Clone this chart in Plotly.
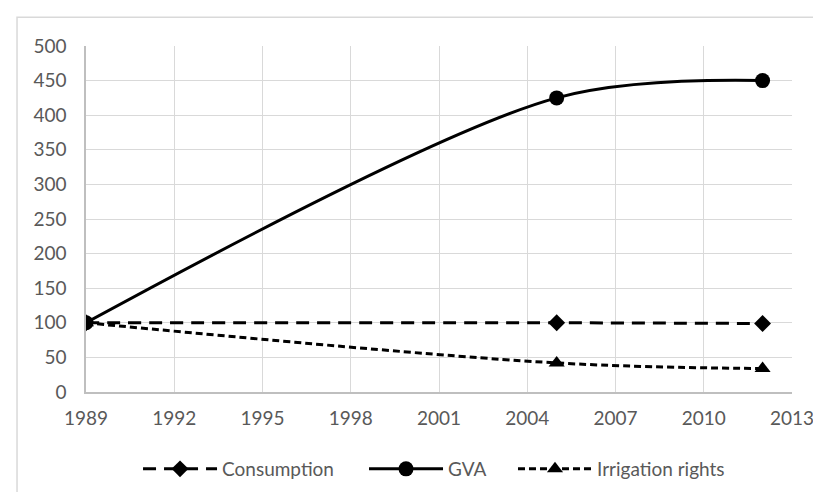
import plotly.graph_objects as go

years = [1989, 2005, 2012]
consumption = [100, 100, 99]
gva = [100, 425, 450]
irrigation = [100, 42, 34]
x_ticks = [1989, 1992, 1995, 1998, 2001, 2004, 2007, 2010, 2013]
y_ticks = [0, 50, 100, 150, 200, 250, 300, 350, 400, 450, 500]

FONT = "Lato"
GRAY = "#595959"

fig = go.Figure()
fig.add_trace(go.Scatter(
    x=years, y=consumption, name="Consumption", mode="lines+markers",
    line=dict(color="black", width=3, dash="13px,8px", shape="spline"),
    marker=dict(symbol="diamond", size=13, color="black"),
    legend="legend",
))
fig.add_trace(go.Scatter(
    x=years, y=gva, name="GVA", mode="lines+markers",
    line=dict(color="black", width=3, shape="spline", smoothing=0.9),
    marker=dict(symbol="circle", size=15, color="black"),
    legend="legend2",
))
fig.add_trace(go.Scatter(
    x=years, y=irrigation, name="Irrigation rights", mode="lines+markers",
    line=dict(color="black", width=3, dash="7px,4px", shape="spline"),
    marker=dict(symbol="triangle-up", size=14, color="black"),
    legend="legend3",
))

leg_common = dict(orientation="h", xanchor="left", y=-0.2225, yanchor="middle",
                  itemwidth=74, font=dict(family=FONT, size=19, color=GRAY),
                  bgcolor="rgba(0,0,0,0)")

fig.update_layout(
    width=821, height=492,
    margin=dict(l=78, r=37, t=38, b=108),
    paper_bgcolor="white", plot_bgcolor="white",
    font=dict(family=FONT, size=19, color=GRAY),
    showlegend=True,
    legend=dict(x=0.0737, **leg_common),
    legend2=dict(x=0.3938, **leg_common),
    legend3=dict(x=0.6048, **leg_common),
    xaxis=dict(range=[1989, 2013], tickvals=x_ticks, ticktext=[str(v) for v in x_ticks],
               showgrid=True, gridcolor="#d9d9d9", gridwidth=1,
               showline=True, linecolor="#bfbfbf", linewidth=1.5,
               zeroline=False, ticks="", ticklabelstandoff=8,
               tickfont=dict(family=FONT, size=19, color=GRAY)),
    yaxis=dict(range=[0, 500], tickvals=y_ticks, ticktext=[str(v) for v in y_ticks],
               showgrid=True, gridcolor="#d9d9d9", gridwidth=1,
               showline=True, linecolor="#bfbfbf", linewidth=1.5,
               zeroline=False, ticks="", ticklabelstandoff=14,
               tickfont=dict(family=FONT, size=19, color=GRAY)),
)

fig.add_shape(type="rect", xref="paper", yref="paper",
              x0=-0.0977, x1=1.08, y0=-0.4, y1=1.083,
              line=dict(color="#d9d9d9", width=1.5), fillcolor="rgba(0,0,0,0)",
              layer="below")

fig.write_html("out.html")
